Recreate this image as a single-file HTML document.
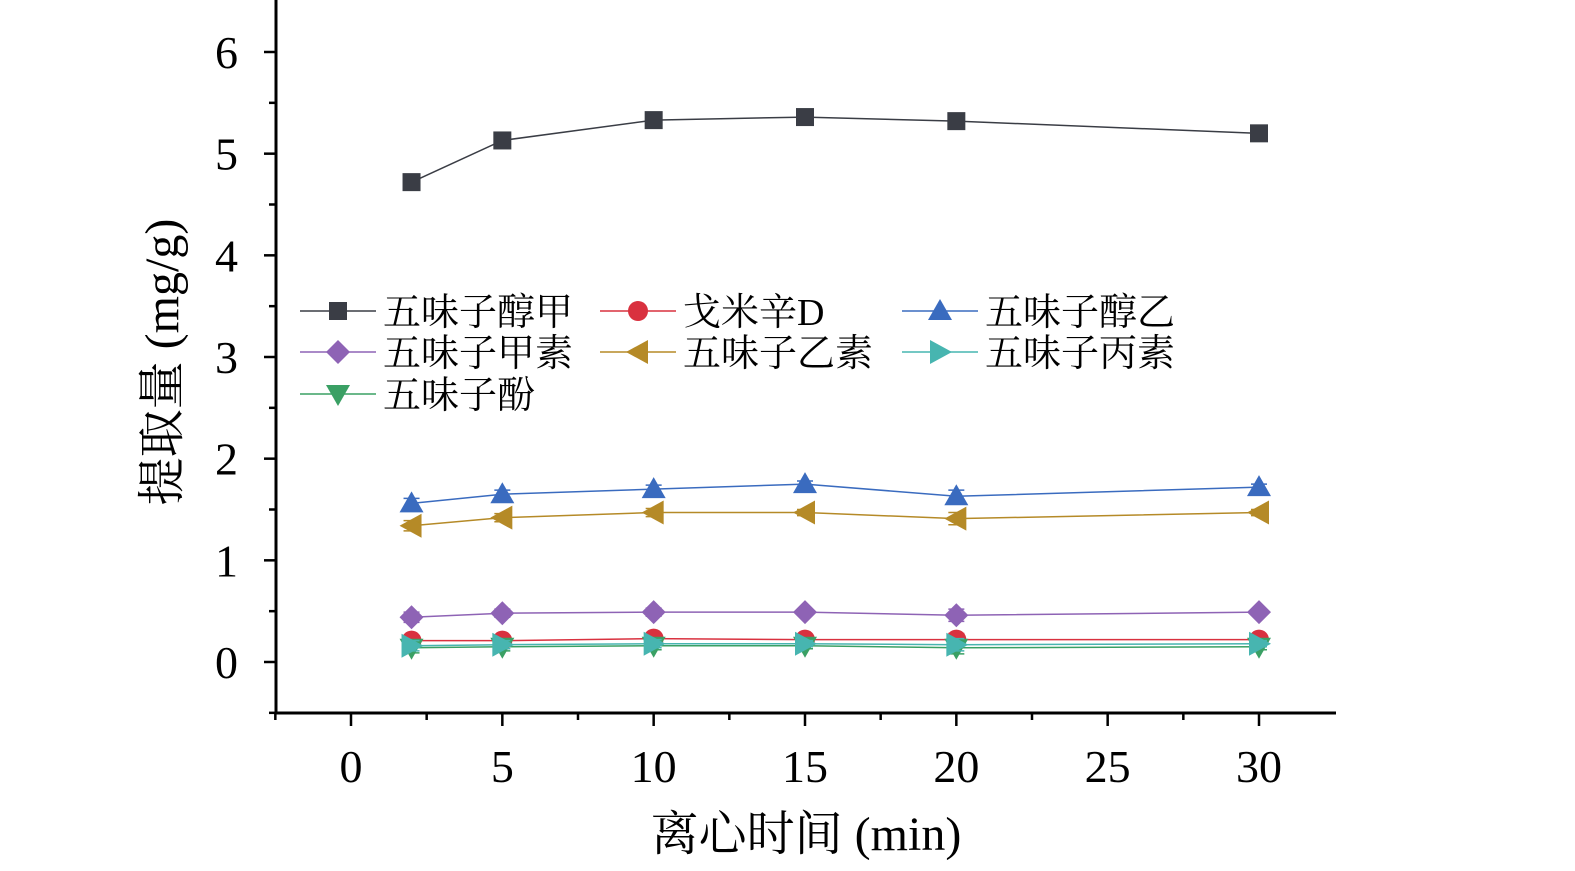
<!DOCTYPE html>
<html><head><meta charset="utf-8"><style>
html,body{margin:0;padding:0;background:#fff;}
svg{display:block;font-family:"Liberation Serif","Noto Serif CJK SC","Noto Sans CJK SC",serif;}
</style></head><body>
<svg id="chart" width="1575" height="871" viewBox="0 0 1575 871"></svg>
<script>
const xCats=[2,5,10,15,20,30];
const seriesNames=["五味子醇甲","戈米辛D","五味子醇乙","五味子甲素","五味子乙素","五味子丙素","五味子酚"];
const sA=[4.72,5.13,5.33,5.36,5.32,5.20];
const sB=[0.21,0.21,0.23,0.22,0.22,0.22];
const sC=[1.56,1.65,1.70,1.75,1.63,1.72];
const sD=[0.44,0.48,0.49,0.49,0.46,0.49];
const sE=[1.34,1.42,1.47,1.47,1.41,1.47];
const sF=[0.16,0.17,0.18,0.18,0.17,0.18];
const sG=[0.14,0.15,0.16,0.16,0.14,0.15];
const errs=[0.05,0.04,0.04,0.03,0.06,0.03];
const xTicks=[0,5,10,15,20,25,30];
const yTicks=[0,1,2,3,4,5,6];
const NS="http://www.w3.org/2000/svg";
const svg=document.getElementById('chart');
const X=v=>351+v*(1259-351)/30;
const Y=v=>662-v*(662-52)/6;
function el(t,a,p){const e=document.createElementNS(NS,t);for(const k in a)e.setAttribute(k,a[k]);(p||svg).appendChild(e);return e;}
let ax=el('line',{x1:276,y1:0,x2:276,y2:714,stroke:'#000','stroke-width':3});


ax=el('line',{x1:275,y1:713,x2:1336,y2:713,stroke:'#000','stroke-width':3});


yTicks.forEach(v=>{
  el('line',{x1:276,y1:Y(v),x2:264,y2:Y(v),stroke:'#000','stroke-width':2.5});
  if(v<6) el('line',{x1:276,y1:Y(v+0.5),x2:269,y2:Y(v+0.5),stroke:'#000','stroke-width':2.5});
  const t=el('text',{x:238,y:Y(v)+16,'font-size':46,'text-anchor':'end'});t.textContent=v;
  
  
});
el('line',{x1:276,y1:Y(-0.5),x2:269,y2:Y(-0.5),stroke:'#000','stroke-width':2.5});
xTicks.forEach(v=>{
  el('line',{x1:X(v),y1:713,x2:X(v),y2:726,stroke:'#000','stroke-width':2.5});
  if(v<30) el('line',{x1:X(v+2.5),y1:713,x2:X(v+2.5),y2:720,stroke:'#000','stroke-width':2.5});
  const t=el('text',{x:X(v),y:782,'font-size':46,'text-anchor':'middle'});t.textContent=v;
  
  
});
el('line',{x1:X(-2.5),y1:713,x2:X(-2.5),y2:720,stroke:'#000','stroke-width':2.5});
let t=el('text',{x:806,y:850,'font-size':48,'text-anchor':'middle'});t.textContent='离心时间 (min)';


t=el('text',{x:0,y:0,'font-size':48,'text-anchor':'middle',transform:'translate(178,362) rotate(-90)'});t.textContent='提取量 (mg/g)';


function marker(type,cx,cy,col,g){
  const s=9;
  if(type==='sq') return el('rect',{x:cx-s,y:cy-s,width:2*s,height:2*s,fill:col},g);
  if(type==='ci') return el('circle',{cx,cy,r:10,fill:col},g);
  if(type==='up') return el('polygon',{points:`${cx},${cy-12} ${cx+12},${cy+9} ${cx-12},${cy+9}`,fill:col},g);
  if(type==='dn') return el('polygon',{points:`${cx},${cy+12} ${cx+12},${cy-9} ${cx-12},${cy-9}`,fill:col},g);
  if(type==='di') return el('polygon',{points:`${cx},${cy-12} ${cx+12},${cy} ${cx},${cy+12} ${cx-12},${cy}`,fill:col},g);
  if(type==='le') return el('polygon',{points:`${cx-12},${cy} ${cx+10},${cy-12} ${cx+10},${cy+12}`,fill:col},g);
  if(type==='ri') return el('polygon',{points:`${cx+12},${cy} ${cx-10},${cy-12} ${cx-10},${cy+12}`,fill:col},g);
}
const defs=[[sA,'sq','#3a3d45'],[sB,'ci','#d9313f'],[sC,'up','#3a6bbf'],[sD,'di','#8e63b5'],[sE,'le','#b58a27'],[sF,'ri','#47b5b0'],[sG,'dn','#3aa064']];
const order=[3,4,2,0,1,6,5];
order.forEach(i=>{
  const [vals,m,col]=defs[i];
  const g=el('g',{});
  
  
  el('polyline',{points:vals.map((v,j)=>X(xCats[j])+','+Y(v)).join(' '),fill:'none',stroke:col,'stroke-width':1.5},g);
  vals.forEach((v,j)=>{
    const x=X(xCats[j]),e=errs[j]*101.7;
    el('path',{d:`M${x},${Y(v)-e}V${Y(v)+e}M${x-8},${Y(v)-e}H${x+8}M${x-8},${Y(v)+e}H${x+8}`,stroke:col,'stroke-width':1.5,fill:'none'},g);
    const p=marker(m,x,Y(v),col,g);
    
    
  });
});
const legPos=[[300,311],[600,311],[902,311],[300,352],[600,352],[902,352],[300,394]];
defs.forEach((d,i)=>{
  const [x,y]=legPos[i];
  const g=el('g',{});
  
  
  el('line',{x1:x,y1:y,x2:x+76,y2:y,stroke:d[2],'stroke-width':1.5},g);
  marker(d[1],x+38,y,d[2],g);
  const tx=el('text',{x:x+83,y:y+14,'font-size':38},g);tx.textContent=seriesNames[i];
});
</script>
</body></html>
